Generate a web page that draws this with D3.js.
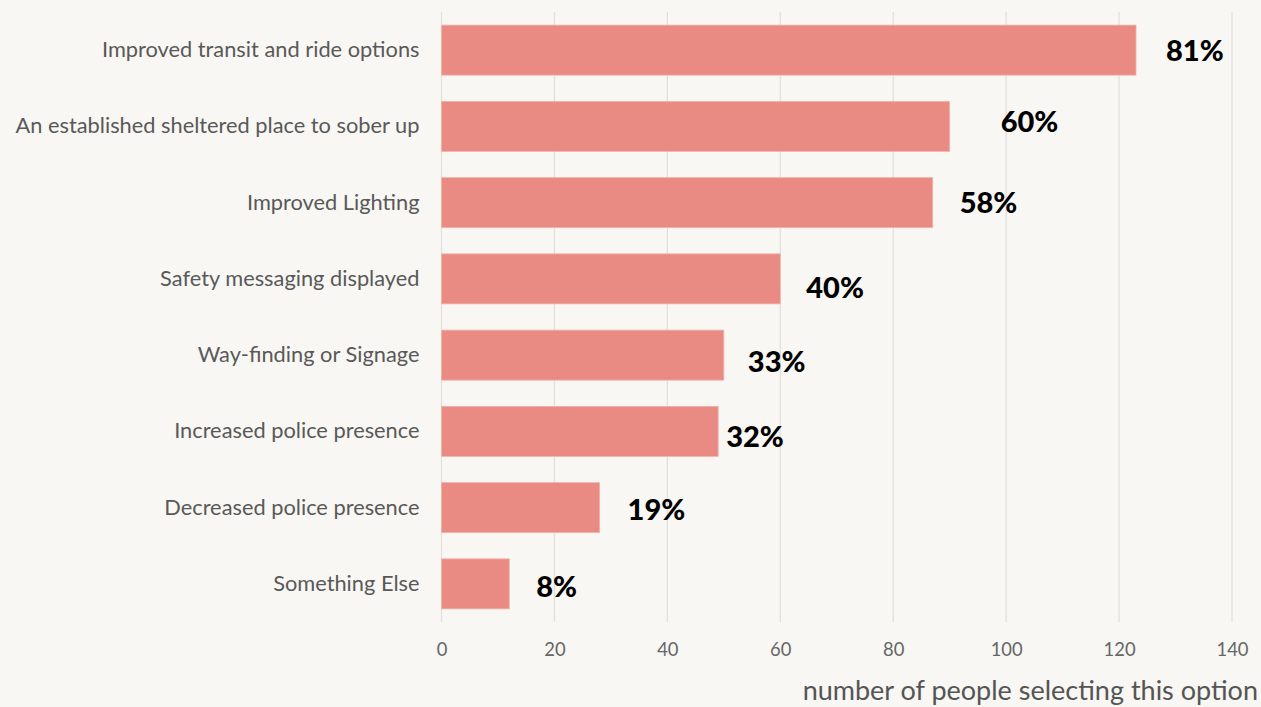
<!DOCTYPE html>
<html><head><meta charset="utf-8">
<script src="https://cdn.jsdelivr.net/npm/d3@7"></script>
<style>
html,body{margin:0;padding:0;background:#f8f7f3;}
svg{display:block;}
</style></head>
<body>
<svg id="chart" width="1261" height="707"></svg>
<script>
const categories = [
  "Improved transit and ride options",
  "An established sheltered place to sober up",
  "Improved Lighting",
  "Safety messaging displayed",
  "Way-finding or Signage",
  "Increased police presence",
  "Decreased police presence",
  "Something Else"
];
const counts = [123, 90, 87, 60, 50, 49, 28, 12];
const percentLabels = ["81%", "60%", "58%", "40%", "33%", "32%", "19%", "8%"];
const tickValues = [0, 20, 40, 60, 80, 100, 120, 140];
const axisTitle = "number of people selecting this option";

// label nudges (layout only), px
const labelDx = [30, 51, 27, 26, 24, 8, 28, 27];
const labelDy = [0, -5, 0, 9, 6, 5, 2, 3];

const svg = d3.select("#chart");
const W = 1261, H = 707;
svg.append("rect").attr("width", W).attr("height", H).attr("fill", "#f8f7f3");

const x = d3.scaleLinear().domain([0, 140]).range([441.5, 1232]);
const y = d3.scaleBand().domain(categories).range([12, 622]).paddingInner(0.344).paddingOuter(0.172);

// grid
svg.append("g").selectAll("line").data(tickValues).join("line")
  .attr("x1", d => x(d)).attr("x2", d => x(d))
  .attr("y1", 12).attr("y2", 622)
  .attr("stroke", "#e2e0dc").attr("stroke-width", 1.3);

// bars
svg.append("g").selectAll("rect").data(counts).join("rect")
  .attr("x", x(0))
  .attr("y", (d, i) => y(categories[i]))
  .attr("width", d => x(d) - x(0))
  .attr("height", y.bandwidth())
  .attr("fill", "#e98b82")
  .attr("stroke", "#f1b3ab").attr("stroke-width", 0.8);

// x axis
const xAxis = d3.axisBottom(x).tickValues(tickValues).tickSize(0).tickPadding(0);
const gx = svg.append("g").attr("transform", "translate(0,656)").call(xAxis);
gx.select(".domain").remove();
gx.selectAll("text").attr("fill", "#666").attr("font-family", "Lato, sans-serif")
  .attr("font-size", 18.4).attr("dy", 0);

// y axis
const yAxis = d3.axisLeft(y).tickSize(0).tickPadding(22);
const gy = svg.append("g").attr("transform", `translate(${x(0)},0)`).call(yAxis);
gy.select(".domain").remove();
gy.selectAll("text").attr("fill", "#595959").attr("font-family", "Lato, sans-serif")
  .attr("font-size", 21.8);

// percent labels
svg.append("g").selectAll("text").data(percentLabels).join("text")
  .attr("x", (d, i) => x(counts[i]) + labelDx[i])
  .attr("y", (d, i) => y(categories[i]) + y.bandwidth() / 2 + labelDy[i])
  .attr("dy", "0.36em")
  .attr("font-family", "Lato, sans-serif").attr("font-weight", 900)
  .attr("font-size", 29).attr("fill", "#000")
  .text(d => d);

// axis title
svg.append("text").attr("x", 1258).attr("y", 700).attr("text-anchor", "end")
  .attr("font-family", "Lato, sans-serif").attr("font-size", 27).attr("fill", "#555")
  .text(axisTitle);
</script>
</body></html>
